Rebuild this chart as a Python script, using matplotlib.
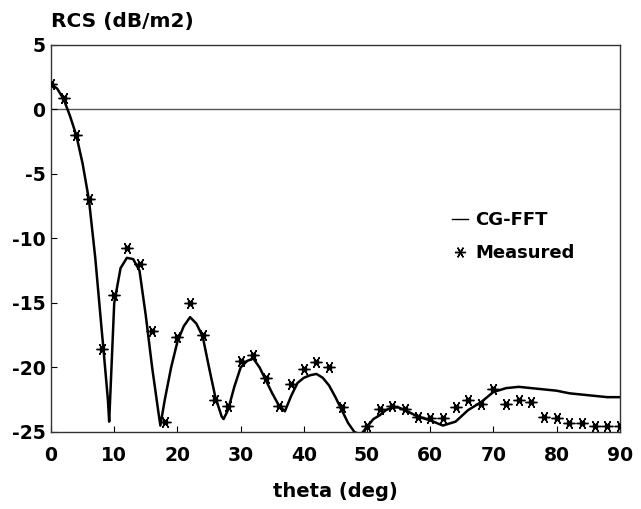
import matplotlib.pyplot as plt
from matplotlib.lines import Line2D

plt.rcParams['font.family'] = ['DejaVu Sans']
plt.rcParams['font.weight'] = 'bold'
plt.rcParams['axes.unicode_minus'] = False

# CG-FFT computed curve
theta_fft = [0, 1, 2, 3, 4, 5, 6, 7, 8, 8.3, 9, 9.2, 10, 11, 12, 13, 14, 15, 16, 17, 17.3,
             18, 19, 20, 21, 22, 23, 24, 25, 26, 27, 27.3, 28, 29, 30, 31, 32, 33, 34,
             35, 36, 37, 38, 39, 40, 41, 42, 43, 44, 45, 46, 47, 48, 49, 50, 51, 52,
             53, 54, 55, 56, 58, 60, 62, 64, 66, 68, 70, 72, 74, 76, 78, 80, 82, 84,
             86, 88, 90]
rcs_fft = [2.0, 1.6, 0.8, -0.5, -2.0, -4.2, -7.0, -11.5, -17.0, -18.6, -22.5, -24.2,
           -15.0, -12.3, -11.5, -11.6, -12.5, -16.0, -20.0, -23.5, -24.5,
           -22.5, -20.0, -18.0, -16.8, -16.1, -16.6, -17.6, -20.0, -22.3, -23.8, -24.0,
           -23.3, -21.5, -20.0, -19.5, -19.3, -20.0, -21.0,
           -22.0, -22.9, -23.4, -22.2, -21.2, -20.8, -20.6, -20.5, -20.8, -21.4, -22.3,
           -23.3, -24.3, -25.0, -25.2, -24.6, -24.0, -23.7,
           -23.3, -23.1, -23.1, -23.3, -23.8, -24.1, -24.5, -24.2, -23.3, -22.7, -21.9,
           -21.6, -21.5, -21.6, -21.7, -21.8, -22.0, -22.1,
           -22.2, -22.3, -22.3]

# measured data
theta_meas = [0, 2, 4, 6, 8, 10, 12, 14, 16, 18, 20, 22, 24, 26, 28, 30, 32, 34, 36,
              38, 40, 42, 44, 46, 50, 52, 54, 56, 58, 60, 62, 64, 66, 68, 70, 72, 74,
              76, 78, 80, 82, 84, 86, 88, 90]
rcs_meas = [2.0, 0.9, -2.0, -6.9, -18.6, -14.4, -10.7, -12.0, -17.2, -24.2, -17.6,
            -15.0, -17.5, -22.5, -23.0, -19.5, -19.0, -20.8, -23.0,
            -21.3, -20.1, -19.6, -20.0, -23.1, -24.5, -23.2, -23.0, -23.2, -23.8,
            -23.9, -23.9, -23.1, -22.5, -22.8, -21.7, -22.8, -22.5,
            -22.7, -23.8, -23.9, -24.3, -24.3, -24.5, -24.5, -24.5]

fig = plt.figure(figsize=(6.41, 5.09), dpi=100)
ax = fig.add_axes([0.0796, 0.1513, 0.8874, 0.7603])

ax.axhline(0, color='#555555', lw=1.0, zorder=1)
ax.plot(theta_fft, rcs_fft, color='black', lw=1.8, zorder=2)
ax.plot(theta_meas, rcs_meas, ls='none', marker=(6, 2, 90), ms=8.5, mew=1.0,
        color='black', zorder=3)
ax.plot(theta_meas, rcs_meas, ls='none', marker='s', ms=3, color='black', zorder=4)

ax.set_xlim(0, 90)
ax.set_ylim(-25, 5)
ax.set_xticks(range(0, 91, 10))
ax.set_yticks(range(-25, 6, 5))
ax.tick_params(direction='in', length=4, width=0.8, labelsize=13.5)
ax.tick_params(axis='x', pad=10)
ax.tick_params(axis='y', pad=4)
for s in ax.spines.values():
    s.set_linewidth(1.0)
    s.set_color('#333333')

ax.set_xlabel('theta (deg)', fontsize=14, fontweight='bold', labelpad=12)
fig.text(0.080, 0.958, 'RCS (dB/m2)', fontsize=14.5, fontweight='bold', va='center', ha='left')

handles = [Line2D([], [], color='black', lw=1.0),
           Line2D([], [], ls='none', marker=(6, 2, 90), ms=8, mew=1.0, color='black')]
leg = ax.legend(handles, ['CG-FFT', 'Measured'], loc='upper left',
                bbox_to_anchor=(0.676, 0.613), frameon=False, fontsize=13,
                handlelength=0.9, handletextpad=0.4, labelspacing=0.85)
for t in leg.get_texts():
    t.set_fontweight('bold')

fig.savefig('out.png', dpi=100)
